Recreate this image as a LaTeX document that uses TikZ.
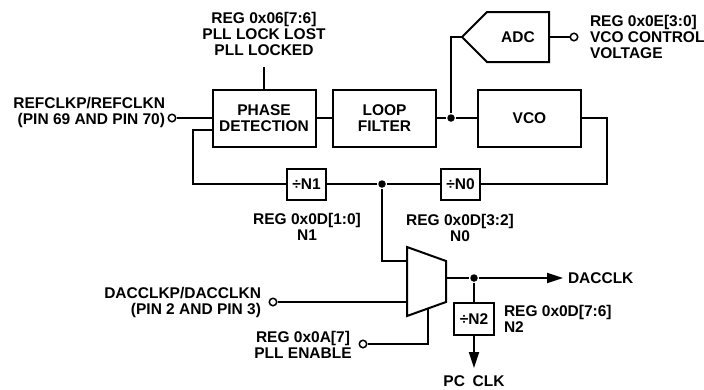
\documentclass[tikz,border=0pt]{standalone}
\usepackage{fontspec}
\setmainfont{Liberation Sans}
\usetikzlibrary{arrows.meta}

\begin{document}
\begin{tikzpicture}[
    x=1pt, y=-1pt,
    line width=2pt,
    every node/.style={font=\fontsize{15.5}{16}\selectfont\bfseries},
    block/.style={draw, minimum width=103pt, minimum height=57pt, align=center},
    divbox/.style={draw, minimum width=39pt, minimum height=31pt, inner sep=0pt},
    note/.style={inner sep=0pt, align=center},
    pin/.style={circle, draw, line width=1.5pt, fill=white, minimum size=7.5pt, inner sep=0pt},
    dot/.style={circle, fill, minimum size=7.5pt, inner sep=0pt},
    arr/.style={-{Triangle[length=16pt,width=10pt]}}
]
\useasboundingbox (0,0) rectangle (704,389);

% PLL loop
\node[block] (phase) at (264,118) {PHASE\\DETECTION};
\node[block] (filter) at (384.5,118) {LOOP\\FILTER};
\node[block] (vco) at (529.5,118) {VCO};
\node[dot] (tap) at (451,118) {};

% ADC
\draw (462,37) coordinate (adcin) -- (487,12) -- (549,12) -- (549,62) -- (487,62) -- cycle;
\coordinate (adcout) at (549,37);
\node (adc) at (518,37) {ADC};

% dividers
\node[divbox] (divone) at (306.5,184) {÷N1};
\node[divbox] (divzero) at (460.5,184) {÷N0};
\node[divbox, minimum width=40pt, minimum height=32pt] (divtwo) at (474,319) {÷N2};
\node[dot] (split) at (382,184) {};

% mux
\draw (407,247) -- (446,261) -- (446,302) -- (407,316) -- cycle;
\coordinate (muxa) at (407,261);
\coordinate (muxb) at (407,302);
\coordinate (muxsel) at (428,308.5);
\coordinate (muxout) at (446,278);
\node[dot] (outdot) at (474,278) {};

% pins
\node[pin] (refpin) at (172,118) {};
\node[pin] (vcopin) at (574,37) {};
\node[pin] (dacpin) at (273,302) {};
\node[pin] (enpin) at (363,344) {};

% labels
\node[note, anchor=south, inner ysep=10pt] (lockreg) at (264,67)
    {REG 0x06[7:6]\\PLL LOCK LOST\\PLL LOCKED};
\node[note, align=left, anchor=north west] (vcoreg) at (589,14)
    {REG 0x0E[3:0]\\VCO CONTROL\\VOLTAGE};
\node[note, align=right, anchor=north east] (refclk) at (166,96)
    {REFCLKP/REFCLKN\\(PIN 69 AND PIN 70)};
\node[note, align=right, anchor=north east] (dacclk) at (262,286)
    {DACCLKP/DACCLKN\\(PIN 2 AND PIN 3)};
\node[note, anchor=north] (pllen) at (303,330) {REG 0x0A[7]\\PLL ENABLE};
\node[note, anchor=north] (n1reg) at (307,212) {REG 0x0D[1:0]\\N1};
\node[note, anchor=north] (n0reg) at (460,213) {REG 0x0D[3:2]\\N0};
\node[note, align=left, anchor=north west] (n2reg) at (503,304) {REG 0x0D[7:6]\\N2};
\node[note, anchor=west, inner xsep=4pt] (dacout) at (563,278) {DACCLK};
\node[note, anchor=north] (pcclk) at (474,375) {PC\hspace{0.5em}CLK};
\coordinate (pcend) at (474,368);

% connections
\coordinate (vcoturn) at (607,118);
\coordinate (fbturn) at (193,130);
\draw (refpin) -- (refpin -| phase.west);
\draw (phase) -- (lockreg);
\draw (phase) -- (filter);
\draw (filter) -- (tap) -- (vco);
\draw (tap) |- (adcin);
\draw (adcout) -- (vcopin);
\draw (vco) -- (vcoturn) |- (divzero);
\draw (divzero) -- (split) -- (divone);
\draw (divone) -| (fbturn) -- (fbturn -| phase.west);
\draw (split) |- (muxa);
\draw (dacpin) -- (muxb);
\draw (enpin) -| (muxsel);
\draw (muxout) -- (outdot);
\draw[arr] (outdot) -- (dacout);
\draw (outdot) -- (divtwo);
\draw[arr] (divtwo) -- (pcend);
\end{tikzpicture}
\end{document}
